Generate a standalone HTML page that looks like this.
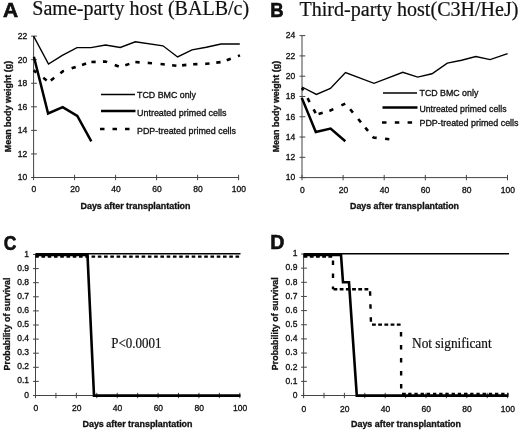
<!DOCTYPE html>
<html><head><meta charset="utf-8"><title>Figure</title>
<style>
html,body{margin:0;padding:0;background:#fff;}
body{width:520px;height:431px;overflow:hidden;}
svg{display:block;filter:blur(0.3px);}
</style></head>
<body>
<svg width="520" height="431" viewBox="0 0 520 431">
<rect width="520" height="431" fill="#fff"/>
<text x="0.00" y="0.00" font-family="'Liberation Sans', Arial, sans-serif" font-size="18.5" font-weight="bold" text-anchor="start" fill="#111" stroke="#000" stroke-width="0.5" transform="translate(3.05,16.5) scale(1.134,1.054)">A</text>
<text x="32.30" y="15.40" font-family="'Liberation Serif', 'Times New Roman', serif" font-size="20" font-weight="normal" text-anchor="start" fill="#111" stroke="#111" stroke-width="0.2" textLength="216.8" lengthAdjust="spacingAndGlyphs">Same-party host (BALB/c)</text>
<line x1="33.60" y1="36.14" x2="33.60" y2="177.50" stroke="#444" stroke-width="1.0"/>
<line x1="31.10" y1="177.50" x2="36.90" y2="177.50" stroke="#444" stroke-width="1.0"/>
<line x1="31.10" y1="153.94" x2="36.90" y2="153.94" stroke="#444" stroke-width="1.0"/>
<line x1="31.10" y1="130.38" x2="36.90" y2="130.38" stroke="#444" stroke-width="1.0"/>
<line x1="31.10" y1="106.82" x2="36.90" y2="106.82" stroke="#444" stroke-width="1.0"/>
<line x1="31.10" y1="83.26" x2="36.90" y2="83.26" stroke="#444" stroke-width="1.0"/>
<line x1="31.10" y1="59.70" x2="36.90" y2="59.70" stroke="#444" stroke-width="1.0"/>
<line x1="31.10" y1="36.14" x2="36.90" y2="36.14" stroke="#444" stroke-width="1.0"/>
<line x1="33.60" y1="177.50" x2="238.60" y2="177.50" stroke="#444" stroke-width="1.0"/>
<line x1="33.60" y1="174.80" x2="33.60" y2="180.20" stroke="#444" stroke-width="1.0"/>
<line x1="74.60" y1="174.80" x2="74.60" y2="180.20" stroke="#444" stroke-width="1.0"/>
<line x1="115.60" y1="174.80" x2="115.60" y2="180.20" stroke="#444" stroke-width="1.0"/>
<line x1="156.60" y1="174.80" x2="156.60" y2="180.20" stroke="#444" stroke-width="1.0"/>
<line x1="197.60" y1="174.80" x2="197.60" y2="180.20" stroke="#444" stroke-width="1.0"/>
<line x1="238.60" y1="174.80" x2="238.60" y2="180.20" stroke="#444" stroke-width="1.0"/>
<text x="27.30" y="180.30" font-family="'Liberation Sans', Arial, sans-serif" font-size="8.5" font-weight="normal" text-anchor="end" fill="#111" stroke="#111" stroke-width="0.32" >10</text>
<text x="27.30" y="156.74" font-family="'Liberation Sans', Arial, sans-serif" font-size="8.5" font-weight="normal" text-anchor="end" fill="#111" stroke="#111" stroke-width="0.32" >12</text>
<text x="27.30" y="133.18" font-family="'Liberation Sans', Arial, sans-serif" font-size="8.5" font-weight="normal" text-anchor="end" fill="#111" stroke="#111" stroke-width="0.32" >14</text>
<text x="27.30" y="109.62" font-family="'Liberation Sans', Arial, sans-serif" font-size="8.5" font-weight="normal" text-anchor="end" fill="#111" stroke="#111" stroke-width="0.32" >16</text>
<text x="27.30" y="86.06" font-family="'Liberation Sans', Arial, sans-serif" font-size="8.5" font-weight="normal" text-anchor="end" fill="#111" stroke="#111" stroke-width="0.32" >18</text>
<text x="27.30" y="62.50" font-family="'Liberation Sans', Arial, sans-serif" font-size="8.5" font-weight="normal" text-anchor="end" fill="#111" stroke="#111" stroke-width="0.32" >20</text>
<text x="27.30" y="38.94" font-family="'Liberation Sans', Arial, sans-serif" font-size="8.5" font-weight="normal" text-anchor="end" fill="#111" stroke="#111" stroke-width="0.32" >22</text>
<text x="33.90" y="192.40" font-family="'Liberation Sans', Arial, sans-serif" font-size="8.5" font-weight="normal" text-anchor="middle" fill="#111" stroke="#111" stroke-width="0.32" >0</text>
<text x="74.90" y="192.40" font-family="'Liberation Sans', Arial, sans-serif" font-size="8.5" font-weight="normal" text-anchor="middle" fill="#111" stroke="#111" stroke-width="0.32" >20</text>
<text x="115.90" y="192.40" font-family="'Liberation Sans', Arial, sans-serif" font-size="8.5" font-weight="normal" text-anchor="middle" fill="#111" stroke="#111" stroke-width="0.32" >40</text>
<text x="156.90" y="192.40" font-family="'Liberation Sans', Arial, sans-serif" font-size="8.5" font-weight="normal" text-anchor="middle" fill="#111" stroke="#111" stroke-width="0.32" >60</text>
<text x="197.90" y="192.40" font-family="'Liberation Sans', Arial, sans-serif" font-size="8.5" font-weight="normal" text-anchor="middle" fill="#111" stroke="#111" stroke-width="0.32" >80</text>
<text x="238.90" y="192.40" font-family="'Liberation Sans', Arial, sans-serif" font-size="8.5" font-weight="normal" text-anchor="middle" fill="#111" stroke="#111" stroke-width="0.32" >100</text>
<text x="0.00" y="0.00" font-family="'Liberation Sans', Arial, sans-serif" font-size="9" font-weight="bold" text-anchor="middle" fill="#111" stroke="#111" stroke-width="0.32" transform="translate(10.9,106.5) rotate(-90)" textLength="91.5" lengthAdjust="spacingAndGlyphs">Mean body weight (g)</text>
<text x="135.50" y="208.80" font-family="'Liberation Sans', Arial, sans-serif" font-size="9" font-weight="bold" text-anchor="middle" fill="#111" stroke="#111" stroke-width="0.32" textLength="110" lengthAdjust="spacingAndGlyphs">Days after transplantation</text>
<polyline points="33.60,36.10 48.50,64.00 62.30,55.30 77.00,47.60 91.00,47.60 105.50,45.00 120.30,47.50 135.30,41.80 163.00,45.80 177.60,57.00 192.00,49.90 206.30,47.30 221.00,44.00 239.80,44.00" fill="none" stroke="#000" stroke-width="1.4" stroke-linejoin="miter" stroke-linecap="butt"/>
<polyline points="33.90,56.80 48.10,113.50 62.70,107.10 77.30,115.90 91.30,141.30" fill="none" stroke="#000" stroke-width="2.5" stroke-linejoin="miter" stroke-linecap="butt"/>
<polyline points="33.60,70.40 48.70,82.00 63.00,71.20 77.50,66.40 91.00,62.00 105.50,61.50 120.00,67.00 135.00,62.00 149.00,63.00 163.00,64.30 177.60,65.80 192.00,64.30 206.30,63.80 221.80,62.00 240.00,55.40" fill="none" stroke="#000" stroke-width="2.6" stroke-linejoin="miter" stroke-linecap="butt" stroke-dasharray="0.00 0.00 3.47 8.73 4.30 5.15 4.30 7.74 4.30 8.05 4.30 6.64 4.30 5.54 4.30 7.27 4.30 8.14 4.30 6.92 4.30 6.26 4.30 8.11 4.30 8.55 4.30 7.34 4.30 5.72 4.30 6.84 4.30 7.80 4.30 6.81 4.30 6.48 4.30 7.64 2.18 50.00" stroke-dashoffset="0"/>
<line x1="101" y1="94.5" x2="135" y2="94.5" stroke="#000" stroke-width="1.4"/>
<line x1="101" y1="111.1" x2="135.5" y2="111.1" stroke="#000" stroke-width="2.5"/>
<line x1="100" y1="129" x2="135" y2="129" stroke="#000" stroke-width="2.6" stroke-dasharray="4.5 8"/>
<text x="137.00" y="97.60" font-family="'Liberation Sans', Arial, sans-serif" font-size="9" font-weight="normal" text-anchor="start" fill="#111" stroke="#111" stroke-width="0.32" textLength="59" lengthAdjust="spacingAndGlyphs">TCD BMC only</text>
<text x="137.00" y="115.60" font-family="'Liberation Sans', Arial, sans-serif" font-size="9" font-weight="normal" text-anchor="start" fill="#111" stroke="#111" stroke-width="0.32" textLength="89.5" lengthAdjust="spacingAndGlyphs">Untreated primed cells</text>
<text x="137.00" y="133.60" font-family="'Liberation Sans', Arial, sans-serif" font-size="9" font-weight="normal" text-anchor="start" fill="#111" stroke="#111" stroke-width="0.32" textLength="99" lengthAdjust="spacingAndGlyphs">PDP-treated primed cells</text>
<text x="0.00" y="0.00" font-family="'Liberation Sans', Arial, sans-serif" font-size="18.5" font-weight="bold" text-anchor="start" fill="#111" stroke="#000" stroke-width="0.5" transform="translate(270.2,16.5) scale(1,1.085)">B</text>
<text x="299.50" y="16.20" font-family="'Liberation Serif', 'Times New Roman', serif" font-size="20" font-weight="normal" text-anchor="start" fill="#111" stroke="#111" stroke-width="0.2" textLength="219" lengthAdjust="spacingAndGlyphs">Third-party host(C3H/HeJ)</text>
<line x1="302.00" y1="35.64" x2="302.00" y2="177.60" stroke="#444" stroke-width="1.0"/>
<line x1="299.50" y1="177.60" x2="305.30" y2="177.60" stroke="#444" stroke-width="1.0"/>
<line x1="299.50" y1="157.32" x2="305.30" y2="157.32" stroke="#444" stroke-width="1.0"/>
<line x1="299.50" y1="137.04" x2="305.30" y2="137.04" stroke="#444" stroke-width="1.0"/>
<line x1="299.50" y1="116.76" x2="305.30" y2="116.76" stroke="#444" stroke-width="1.0"/>
<line x1="299.50" y1="96.48" x2="305.30" y2="96.48" stroke="#444" stroke-width="1.0"/>
<line x1="299.50" y1="76.20" x2="305.30" y2="76.20" stroke="#444" stroke-width="1.0"/>
<line x1="299.50" y1="55.92" x2="305.30" y2="55.92" stroke="#444" stroke-width="1.0"/>
<line x1="299.50" y1="35.64" x2="305.30" y2="35.64" stroke="#444" stroke-width="1.0"/>
<line x1="302.00" y1="177.60" x2="507.50" y2="177.60" stroke="#444" stroke-width="1.0"/>
<line x1="302.00" y1="174.90" x2="302.00" y2="180.30" stroke="#444" stroke-width="1.0"/>
<line x1="343.10" y1="174.90" x2="343.10" y2="180.30" stroke="#444" stroke-width="1.0"/>
<line x1="384.20" y1="174.90" x2="384.20" y2="180.30" stroke="#444" stroke-width="1.0"/>
<line x1="425.30" y1="174.90" x2="425.30" y2="180.30" stroke="#444" stroke-width="1.0"/>
<line x1="466.40" y1="174.90" x2="466.40" y2="180.30" stroke="#444" stroke-width="1.0"/>
<line x1="507.50" y1="174.90" x2="507.50" y2="180.30" stroke="#444" stroke-width="1.0"/>
<text x="295.30" y="180.40" font-family="'Liberation Sans', Arial, sans-serif" font-size="8.5" font-weight="normal" text-anchor="end" fill="#111" stroke="#111" stroke-width="0.32" >10</text>
<text x="295.30" y="160.12" font-family="'Liberation Sans', Arial, sans-serif" font-size="8.5" font-weight="normal" text-anchor="end" fill="#111" stroke="#111" stroke-width="0.32" >12</text>
<text x="295.30" y="139.84" font-family="'Liberation Sans', Arial, sans-serif" font-size="8.5" font-weight="normal" text-anchor="end" fill="#111" stroke="#111" stroke-width="0.32" >14</text>
<text x="295.30" y="119.56" font-family="'Liberation Sans', Arial, sans-serif" font-size="8.5" font-weight="normal" text-anchor="end" fill="#111" stroke="#111" stroke-width="0.32" >16</text>
<text x="295.30" y="99.28" font-family="'Liberation Sans', Arial, sans-serif" font-size="8.5" font-weight="normal" text-anchor="end" fill="#111" stroke="#111" stroke-width="0.32" >18</text>
<text x="295.30" y="79.00" font-family="'Liberation Sans', Arial, sans-serif" font-size="8.5" font-weight="normal" text-anchor="end" fill="#111" stroke="#111" stroke-width="0.32" >20</text>
<text x="295.30" y="58.72" font-family="'Liberation Sans', Arial, sans-serif" font-size="8.5" font-weight="normal" text-anchor="end" fill="#111" stroke="#111" stroke-width="0.32" >22</text>
<text x="295.30" y="38.44" font-family="'Liberation Sans', Arial, sans-serif" font-size="8.5" font-weight="normal" text-anchor="end" fill="#111" stroke="#111" stroke-width="0.32" >24</text>
<text x="302.30" y="193.20" font-family="'Liberation Sans', Arial, sans-serif" font-size="8.5" font-weight="normal" text-anchor="middle" fill="#111" stroke="#111" stroke-width="0.32" >0</text>
<text x="343.40" y="193.20" font-family="'Liberation Sans', Arial, sans-serif" font-size="8.5" font-weight="normal" text-anchor="middle" fill="#111" stroke="#111" stroke-width="0.32" >20</text>
<text x="384.50" y="193.20" font-family="'Liberation Sans', Arial, sans-serif" font-size="8.5" font-weight="normal" text-anchor="middle" fill="#111" stroke="#111" stroke-width="0.32" >40</text>
<text x="425.60" y="193.20" font-family="'Liberation Sans', Arial, sans-serif" font-size="8.5" font-weight="normal" text-anchor="middle" fill="#111" stroke="#111" stroke-width="0.32" >60</text>
<text x="466.70" y="193.20" font-family="'Liberation Sans', Arial, sans-serif" font-size="8.5" font-weight="normal" text-anchor="middle" fill="#111" stroke="#111" stroke-width="0.32" >80</text>
<text x="507.80" y="193.20" font-family="'Liberation Sans', Arial, sans-serif" font-size="8.5" font-weight="normal" text-anchor="middle" fill="#111" stroke="#111" stroke-width="0.32" >100</text>
<text x="0.00" y="0.00" font-family="'Liberation Sans', Arial, sans-serif" font-size="9" font-weight="bold" text-anchor="middle" fill="#111" stroke="#111" stroke-width="0.32" transform="translate(278.7,106.6) rotate(-90)" textLength="91.5" lengthAdjust="spacingAndGlyphs">Mean body weight (g)</text>
<text x="404.50" y="208.80" font-family="'Liberation Sans', Arial, sans-serif" font-size="9" font-weight="bold" text-anchor="middle" fill="#111" stroke="#111" stroke-width="0.32" textLength="109" lengthAdjust="spacingAndGlyphs">Days after transplantation</text>
<polyline points="302.00,87.00 316.40,94.40 330.40,88.40 345.50,72.50 374.00,83.30 402.80,72.30 417.70,77.10 432.00,73.80 447.30,63.10 461.60,60.20 475.80,56.50 490.10,59.60 507.60,53.60" fill="none" stroke="#000" stroke-width="1.4" stroke-linejoin="miter" stroke-linecap="butt"/>
<polyline points="301.80,97.90 315.80,132.00 330.60,128.60 345.30,141.20" fill="none" stroke="#000" stroke-width="2.5" stroke-linejoin="miter" stroke-linecap="butt"/>
<polyline points="302.00,88.00 316.40,114.60 330.40,110.50 345.40,103.50 373.50,137.50 389.50,139.30" fill="none" stroke="#000" stroke-width="2.6" stroke-linejoin="miter" stroke-linecap="butt" stroke-dasharray="0.00 0.00 2.73 8.90 4.30 8.43 4.30 3.85 4.30 6.95 4.30 8.89 4.30 7.65 4.30 8.31 4.30 6.80 4.30 7.48 4.30 8.43 4.30 50.17" stroke-dashoffset="0"/>
<line x1="383" y1="93" x2="417" y2="93" stroke="#000" stroke-width="1.4"/>
<line x1="382.5" y1="107.5" x2="417.5" y2="107.5" stroke="#000" stroke-width="2.5"/>
<line x1="382" y1="122.5" x2="417" y2="122.5" stroke="#000" stroke-width="2.6" stroke-dasharray="4.5 8.3"/>
<text x="419.50" y="96.30" font-family="'Liberation Sans', Arial, sans-serif" font-size="9" font-weight="normal" text-anchor="start" fill="#111" stroke="#111" stroke-width="0.32" textLength="58.8" lengthAdjust="spacingAndGlyphs">TCD BMC only</text>
<text x="419.50" y="111.50" font-family="'Liberation Sans', Arial, sans-serif" font-size="9" font-weight="normal" text-anchor="start" fill="#111" stroke="#111" stroke-width="0.32" textLength="87" lengthAdjust="spacingAndGlyphs">Untreated primed cells</text>
<text x="419.50" y="126.30" font-family="'Liberation Sans', Arial, sans-serif" font-size="9" font-weight="normal" text-anchor="start" fill="#111" stroke="#111" stroke-width="0.32" textLength="99" lengthAdjust="spacingAndGlyphs">PDP-treated primed cells</text>
<text x="0.00" y="0.00" font-family="'Liberation Sans', Arial, sans-serif" font-size="18.5" font-weight="bold" text-anchor="start" fill="#111" stroke="#000" stroke-width="0.5" transform="translate(3.7,249.5) scale(0.947,1.07)">C</text>
<line x1="35.50" y1="254.50" x2="35.50" y2="395.50" stroke="#444" stroke-width="1.0"/>
<line x1="33.00" y1="395.50" x2="38.80" y2="395.50" stroke="#444" stroke-width="1.0"/>
<line x1="33.00" y1="381.40" x2="38.80" y2="381.40" stroke="#444" stroke-width="1.0"/>
<line x1="33.00" y1="367.30" x2="38.80" y2="367.30" stroke="#444" stroke-width="1.0"/>
<line x1="33.00" y1="353.20" x2="38.80" y2="353.20" stroke="#444" stroke-width="1.0"/>
<line x1="33.00" y1="339.10" x2="38.80" y2="339.10" stroke="#444" stroke-width="1.0"/>
<line x1="33.00" y1="325.00" x2="38.80" y2="325.00" stroke="#444" stroke-width="1.0"/>
<line x1="33.00" y1="310.90" x2="38.80" y2="310.90" stroke="#444" stroke-width="1.0"/>
<line x1="33.00" y1="296.80" x2="38.80" y2="296.80" stroke="#444" stroke-width="1.0"/>
<line x1="33.00" y1="282.70" x2="38.80" y2="282.70" stroke="#444" stroke-width="1.0"/>
<line x1="33.00" y1="268.60" x2="38.80" y2="268.60" stroke="#444" stroke-width="1.0"/>
<line x1="33.00" y1="254.50" x2="38.80" y2="254.50" stroke="#444" stroke-width="1.0"/>
<line x1="35.50" y1="395.50" x2="239.80" y2="395.50" stroke="#444" stroke-width="1.0"/>
<line x1="35.50" y1="392.80" x2="35.50" y2="398.20" stroke="#444" stroke-width="1.0"/>
<line x1="55.93" y1="392.80" x2="55.93" y2="398.20" stroke="#444" stroke-width="1.0"/>
<line x1="76.36" y1="392.80" x2="76.36" y2="398.20" stroke="#444" stroke-width="1.0"/>
<line x1="96.79" y1="392.80" x2="96.79" y2="398.20" stroke="#444" stroke-width="1.0"/>
<line x1="117.22" y1="392.80" x2="117.22" y2="398.20" stroke="#444" stroke-width="1.0"/>
<line x1="137.65" y1="392.80" x2="137.65" y2="398.20" stroke="#444" stroke-width="1.0"/>
<line x1="158.08" y1="392.80" x2="158.08" y2="398.20" stroke="#444" stroke-width="1.0"/>
<line x1="178.51" y1="392.80" x2="178.51" y2="398.20" stroke="#444" stroke-width="1.0"/>
<line x1="198.94" y1="392.80" x2="198.94" y2="398.20" stroke="#444" stroke-width="1.0"/>
<line x1="219.37" y1="392.80" x2="219.37" y2="398.20" stroke="#444" stroke-width="1.0"/>
<line x1="239.80" y1="392.80" x2="239.80" y2="398.20" stroke="#444" stroke-width="1.0"/>
<text x="29.00" y="397.50" font-family="'Liberation Sans', Arial, sans-serif" font-size="8.5" font-weight="normal" text-anchor="end" fill="#111" stroke="#111" stroke-width="0.32" >0</text>
<text x="29.00" y="383.40" font-family="'Liberation Sans', Arial, sans-serif" font-size="8.5" font-weight="normal" text-anchor="end" fill="#111" stroke="#111" stroke-width="0.32" >0.1</text>
<text x="29.00" y="369.30" font-family="'Liberation Sans', Arial, sans-serif" font-size="8.5" font-weight="normal" text-anchor="end" fill="#111" stroke="#111" stroke-width="0.32" >0.2</text>
<text x="29.00" y="355.20" font-family="'Liberation Sans', Arial, sans-serif" font-size="8.5" font-weight="normal" text-anchor="end" fill="#111" stroke="#111" stroke-width="0.32" >0.3</text>
<text x="29.00" y="341.10" font-family="'Liberation Sans', Arial, sans-serif" font-size="8.5" font-weight="normal" text-anchor="end" fill="#111" stroke="#111" stroke-width="0.32" >0.4</text>
<text x="29.00" y="327.00" font-family="'Liberation Sans', Arial, sans-serif" font-size="8.5" font-weight="normal" text-anchor="end" fill="#111" stroke="#111" stroke-width="0.32" >0.5</text>
<text x="29.00" y="312.90" font-family="'Liberation Sans', Arial, sans-serif" font-size="8.5" font-weight="normal" text-anchor="end" fill="#111" stroke="#111" stroke-width="0.32" >0.6</text>
<text x="29.00" y="298.80" font-family="'Liberation Sans', Arial, sans-serif" font-size="8.5" font-weight="normal" text-anchor="end" fill="#111" stroke="#111" stroke-width="0.32" >0.7</text>
<text x="29.00" y="284.70" font-family="'Liberation Sans', Arial, sans-serif" font-size="8.5" font-weight="normal" text-anchor="end" fill="#111" stroke="#111" stroke-width="0.32" >0.8</text>
<text x="29.00" y="270.60" font-family="'Liberation Sans', Arial, sans-serif" font-size="8.5" font-weight="normal" text-anchor="end" fill="#111" stroke="#111" stroke-width="0.32" >0.9</text>
<text x="29.00" y="256.50" font-family="'Liberation Sans', Arial, sans-serif" font-size="8.5" font-weight="normal" text-anchor="end" fill="#111" stroke="#111" stroke-width="0.32" >1</text>
<text x="35.80" y="411.30" font-family="'Liberation Sans', Arial, sans-serif" font-size="8.5" font-weight="normal" text-anchor="middle" fill="#111" stroke="#111" stroke-width="0.32" >0</text>
<text x="76.66" y="411.30" font-family="'Liberation Sans', Arial, sans-serif" font-size="8.5" font-weight="normal" text-anchor="middle" fill="#111" stroke="#111" stroke-width="0.32" >20</text>
<text x="117.52" y="411.30" font-family="'Liberation Sans', Arial, sans-serif" font-size="8.5" font-weight="normal" text-anchor="middle" fill="#111" stroke="#111" stroke-width="0.32" >40</text>
<text x="158.38" y="411.30" font-family="'Liberation Sans', Arial, sans-serif" font-size="8.5" font-weight="normal" text-anchor="middle" fill="#111" stroke="#111" stroke-width="0.32" >60</text>
<text x="199.24" y="411.30" font-family="'Liberation Sans', Arial, sans-serif" font-size="8.5" font-weight="normal" text-anchor="middle" fill="#111" stroke="#111" stroke-width="0.32" >80</text>
<text x="240.10" y="411.30" font-family="'Liberation Sans', Arial, sans-serif" font-size="8.5" font-weight="normal" text-anchor="middle" fill="#111" stroke="#111" stroke-width="0.32" >100</text>
<text x="0.00" y="0.00" font-family="'Liberation Sans', Arial, sans-serif" font-size="9" font-weight="bold" text-anchor="middle" fill="#111" stroke="#111" stroke-width="0.32" transform="translate(10,324) rotate(-90)" textLength="93" lengthAdjust="spacingAndGlyphs">Probability of survival</text>
<text x="0.00" y="0.00" font-family="'Liberation Sans', Arial, sans-serif" font-size="9" font-weight="bold" text-anchor="middle" fill="#111" stroke="#111" stroke-width="0.32" transform="translate(137.5,427)" textLength="110" lengthAdjust="spacingAndGlyphs">Days after transplantation</text>
<text x="111.30" y="347.60" font-family="'Liberation Serif', 'Times New Roman', serif" font-size="13.7" font-weight="normal" text-anchor="start" fill="#111" stroke="#111" stroke-width="0.2" textLength="50.2" lengthAdjust="spacingAndGlyphs">P&lt;0.0001</text>
<polyline points="35.50,253.70 240.50,253.70" fill="none" stroke="#000" stroke-width="1.4" stroke-linejoin="miter" stroke-linecap="butt"/>
<polyline points="35.50,256.60 240.00,256.60" fill="none" stroke="#000" stroke-width="2.4" stroke-linejoin="miter" stroke-linecap="butt" stroke-dasharray="3.6 2.66" stroke-dashoffset="0.3"/>
<polyline points="35.50,255.00 87.50,255.00 94.00,395.60 240.50,395.60" fill="none" stroke="#000" stroke-width="2.6" stroke-linejoin="miter" stroke-linecap="butt"/>
<text x="0.00" y="0.00" font-family="'Liberation Sans', Arial, sans-serif" font-size="18.5" font-weight="bold" text-anchor="start" fill="#111" stroke="#000" stroke-width="0.5" transform="translate(270.3,248.6) scale(1.06,1.054)">D</text>
<line x1="303.60" y1="254.00" x2="303.60" y2="395.50" stroke="#444" stroke-width="1.0"/>
<line x1="301.10" y1="395.50" x2="306.90" y2="395.50" stroke="#444" stroke-width="1.0"/>
<line x1="301.10" y1="381.35" x2="306.90" y2="381.35" stroke="#444" stroke-width="1.0"/>
<line x1="301.10" y1="367.20" x2="306.90" y2="367.20" stroke="#444" stroke-width="1.0"/>
<line x1="301.10" y1="353.05" x2="306.90" y2="353.05" stroke="#444" stroke-width="1.0"/>
<line x1="301.10" y1="338.90" x2="306.90" y2="338.90" stroke="#444" stroke-width="1.0"/>
<line x1="301.10" y1="324.75" x2="306.90" y2="324.75" stroke="#444" stroke-width="1.0"/>
<line x1="301.10" y1="310.60" x2="306.90" y2="310.60" stroke="#444" stroke-width="1.0"/>
<line x1="301.10" y1="296.45" x2="306.90" y2="296.45" stroke="#444" stroke-width="1.0"/>
<line x1="301.10" y1="282.30" x2="306.90" y2="282.30" stroke="#444" stroke-width="1.0"/>
<line x1="301.10" y1="268.15" x2="306.90" y2="268.15" stroke="#444" stroke-width="1.0"/>
<line x1="301.10" y1="254.00" x2="306.90" y2="254.00" stroke="#444" stroke-width="1.0"/>
<line x1="303.60" y1="395.50" x2="507.60" y2="395.50" stroke="#444" stroke-width="1.0"/>
<line x1="303.60" y1="392.80" x2="303.60" y2="398.20" stroke="#444" stroke-width="1.0"/>
<line x1="324.00" y1="392.80" x2="324.00" y2="398.20" stroke="#444" stroke-width="1.0"/>
<line x1="344.40" y1="392.80" x2="344.40" y2="398.20" stroke="#444" stroke-width="1.0"/>
<line x1="364.80" y1="392.80" x2="364.80" y2="398.20" stroke="#444" stroke-width="1.0"/>
<line x1="385.20" y1="392.80" x2="385.20" y2="398.20" stroke="#444" stroke-width="1.0"/>
<line x1="405.60" y1="392.80" x2="405.60" y2="398.20" stroke="#444" stroke-width="1.0"/>
<line x1="426.00" y1="392.80" x2="426.00" y2="398.20" stroke="#444" stroke-width="1.0"/>
<line x1="446.40" y1="392.80" x2="446.40" y2="398.20" stroke="#444" stroke-width="1.0"/>
<line x1="466.80" y1="392.80" x2="466.80" y2="398.20" stroke="#444" stroke-width="1.0"/>
<line x1="487.20" y1="392.80" x2="487.20" y2="398.20" stroke="#444" stroke-width="1.0"/>
<line x1="507.60" y1="392.80" x2="507.60" y2="398.20" stroke="#444" stroke-width="1.0"/>
<text x="297.40" y="397.80" font-family="'Liberation Sans', Arial, sans-serif" font-size="8.5" font-weight="normal" text-anchor="end" fill="#111" stroke="#111" stroke-width="0.32" >0</text>
<text x="297.40" y="383.65" font-family="'Liberation Sans', Arial, sans-serif" font-size="8.5" font-weight="normal" text-anchor="end" fill="#111" stroke="#111" stroke-width="0.32" >0.1</text>
<text x="297.40" y="369.50" font-family="'Liberation Sans', Arial, sans-serif" font-size="8.5" font-weight="normal" text-anchor="end" fill="#111" stroke="#111" stroke-width="0.32" >0.2</text>
<text x="297.40" y="355.35" font-family="'Liberation Sans', Arial, sans-serif" font-size="8.5" font-weight="normal" text-anchor="end" fill="#111" stroke="#111" stroke-width="0.32" >0.3</text>
<text x="297.40" y="341.20" font-family="'Liberation Sans', Arial, sans-serif" font-size="8.5" font-weight="normal" text-anchor="end" fill="#111" stroke="#111" stroke-width="0.32" >0.4</text>
<text x="297.40" y="327.05" font-family="'Liberation Sans', Arial, sans-serif" font-size="8.5" font-weight="normal" text-anchor="end" fill="#111" stroke="#111" stroke-width="0.32" >0.5</text>
<text x="297.40" y="312.90" font-family="'Liberation Sans', Arial, sans-serif" font-size="8.5" font-weight="normal" text-anchor="end" fill="#111" stroke="#111" stroke-width="0.32" >0.6</text>
<text x="297.40" y="298.75" font-family="'Liberation Sans', Arial, sans-serif" font-size="8.5" font-weight="normal" text-anchor="end" fill="#111" stroke="#111" stroke-width="0.32" >0.7</text>
<text x="297.40" y="284.60" font-family="'Liberation Sans', Arial, sans-serif" font-size="8.5" font-weight="normal" text-anchor="end" fill="#111" stroke="#111" stroke-width="0.32" >0.8</text>
<text x="297.40" y="270.45" font-family="'Liberation Sans', Arial, sans-serif" font-size="8.5" font-weight="normal" text-anchor="end" fill="#111" stroke="#111" stroke-width="0.32" >0.9</text>
<text x="297.40" y="256.30" font-family="'Liberation Sans', Arial, sans-serif" font-size="8.5" font-weight="normal" text-anchor="end" fill="#111" stroke="#111" stroke-width="0.32" >1</text>
<text x="303.90" y="411.50" font-family="'Liberation Sans', Arial, sans-serif" font-size="8.5" font-weight="normal" text-anchor="middle" fill="#111" stroke="#111" stroke-width="0.32" >0</text>
<text x="344.70" y="411.50" font-family="'Liberation Sans', Arial, sans-serif" font-size="8.5" font-weight="normal" text-anchor="middle" fill="#111" stroke="#111" stroke-width="0.32" >20</text>
<text x="385.50" y="411.50" font-family="'Liberation Sans', Arial, sans-serif" font-size="8.5" font-weight="normal" text-anchor="middle" fill="#111" stroke="#111" stroke-width="0.32" >40</text>
<text x="426.30" y="411.50" font-family="'Liberation Sans', Arial, sans-serif" font-size="8.5" font-weight="normal" text-anchor="middle" fill="#111" stroke="#111" stroke-width="0.32" >60</text>
<text x="467.10" y="411.50" font-family="'Liberation Sans', Arial, sans-serif" font-size="8.5" font-weight="normal" text-anchor="middle" fill="#111" stroke="#111" stroke-width="0.32" >80</text>
<text x="507.90" y="411.50" font-family="'Liberation Sans', Arial, sans-serif" font-size="8.5" font-weight="normal" text-anchor="middle" fill="#111" stroke="#111" stroke-width="0.32" >100</text>
<text x="0.00" y="0.00" font-family="'Liberation Sans', Arial, sans-serif" font-size="9" font-weight="bold" text-anchor="middle" fill="#111" stroke="#111" stroke-width="0.32" transform="translate(277.8,323.7) rotate(-90)" textLength="93" lengthAdjust="spacingAndGlyphs">Probability of survival</text>
<text x="0.00" y="0.00" font-family="'Liberation Sans', Arial, sans-serif" font-size="9" font-weight="bold" text-anchor="middle" fill="#111" stroke="#111" stroke-width="0.32" transform="translate(406,427)" textLength="110" lengthAdjust="spacingAndGlyphs">Days after transplantation</text>
<text x="412.00" y="347.80" font-family="'Liberation Serif', 'Times New Roman', serif" font-size="13.7" font-weight="normal" text-anchor="start" fill="#111" stroke="#111" stroke-width="0.2" textLength="79.6" lengthAdjust="spacingAndGlyphs">Not significant</text>
<polyline points="303.60,253.70 509.00,253.70" fill="none" stroke="#000" stroke-width="1.4" stroke-linejoin="miter" stroke-linecap="butt"/>
<polyline points="303.60,256.60 333.00,256.60" fill="none" stroke="#000" stroke-width="2.4" stroke-linejoin="miter" stroke-linecap="butt" stroke-dasharray="3.8 2.4" stroke-dashoffset="0"/>
<polyline points="333.00,256.60 333.00,289.20" fill="none" stroke="#000" stroke-width="2.4" stroke-linejoin="miter" stroke-linecap="butt" stroke-dasharray="4.5 8.5" stroke-dashoffset="-4"/>
<polyline points="333.50,289.20 369.00,289.20" fill="none" stroke="#000" stroke-width="2.4" stroke-linejoin="miter" stroke-linecap="butt" stroke-dasharray="3.8 2.4" stroke-dashoffset="0"/>
<polyline points="370.00,289.20 371.00,324.70" fill="none" stroke="#000" stroke-width="2.4" stroke-linejoin="miter" stroke-linecap="butt" stroke-dasharray="4.5 8.5" stroke-dashoffset="-2"/>
<polyline points="372.00,324.60 401.00,324.60" fill="none" stroke="#000" stroke-width="2.4" stroke-linejoin="miter" stroke-linecap="butt" stroke-dasharray="3.8 2.4" stroke-dashoffset="0"/>
<polyline points="401.00,324.60 401.20,394.00" fill="none" stroke="#000" stroke-width="2.4" stroke-linejoin="miter" stroke-linecap="butt" stroke-dasharray="4.5 8.5" stroke-dashoffset="-7.4"/>
<polyline points="402.00,394.00 508.50,394.00" fill="none" stroke="#000" stroke-width="2.4" stroke-linejoin="miter" stroke-linecap="butt" stroke-dasharray="3.3 2.9" stroke-dashoffset="0"/>
<polyline points="303.60,254.90 341.00,254.90 343.00,282.30 349.00,282.30 356.80,395.60 508.50,395.60" fill="none" stroke="#000" stroke-width="2.6" stroke-linejoin="miter" stroke-linecap="butt"/>
</svg>
</body></html>
